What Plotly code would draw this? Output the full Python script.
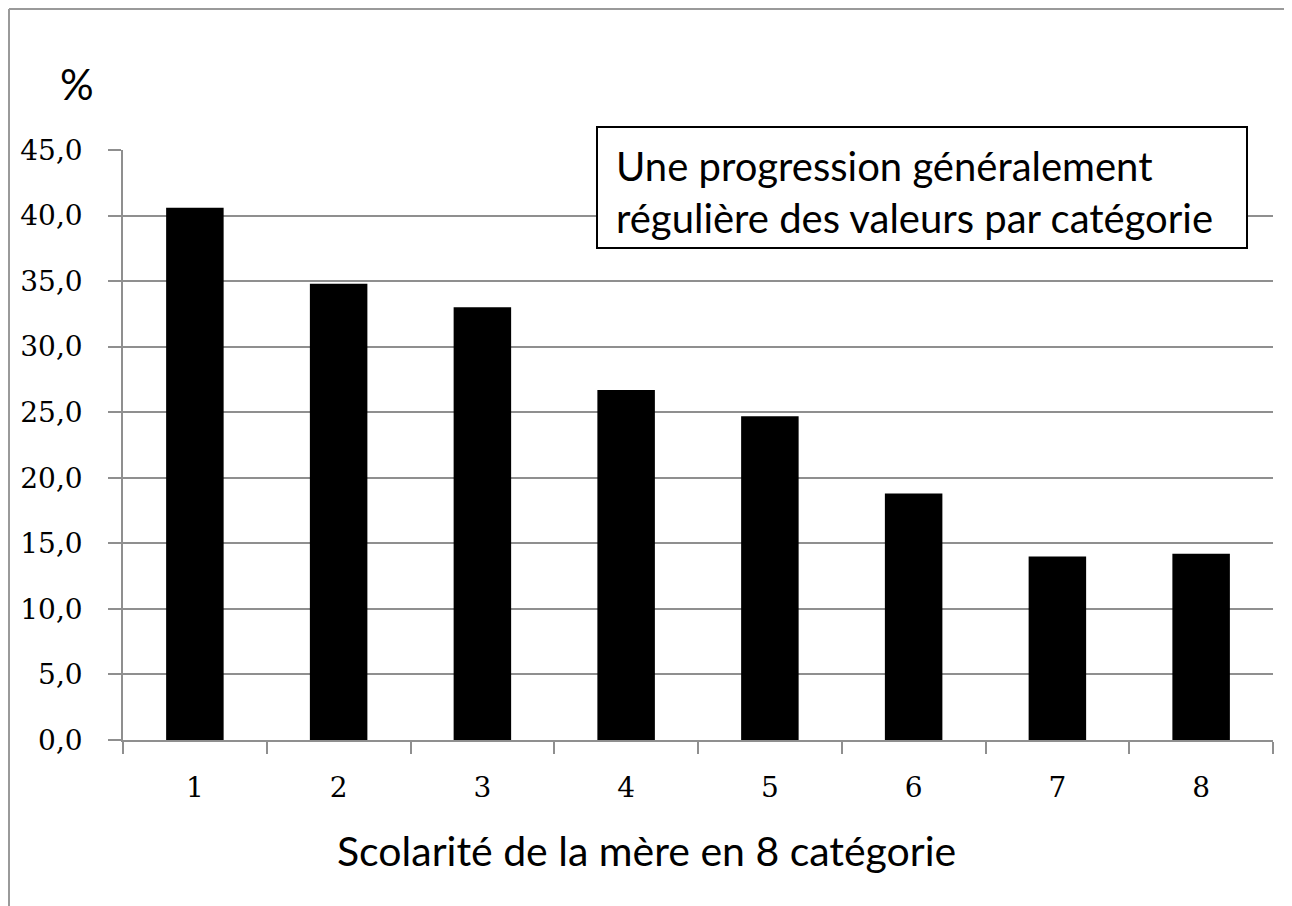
import plotly.graph_objects as go

categories = ["1", "2", "3", "4", "5", "6", "7", "8"]
values = [40.6, 34.8, 33.0, 26.7, 24.7, 18.8, 14.0, 14.2]
y_ticks = [0, 5, 10, 15, 20, 25, 30, 35, 40, 45]
x_title = "Scolarité de la mère en 8 catégorie"
y_unit = "%"
note = "Une progression généralement<br>régulière des valeurs par catégorie"

W, H = 1292, 906
OFF = 8  # default page body margin of the browser
ML, MT = 123 - OFF, 150 - OFF
PW, PH = 1150, 590
MR = W - ML - PW
MB = H - MT - PH


def px(x):
    # page pixel x -> paper coordinate
    return (x - OFF - ML) / PW


def py(y):
    # page pixel y -> paper coordinate
    return (MT + PH - (y - OFF)) / PH


fig = go.Figure()
fig.add_trace(go.Bar(
    x=categories, y=values,
    marker=dict(color="#000000", line=dict(color="#000000", width=0)),
    width=0.4,
))

grid = "#8f8f8f"
frame = "#9a9a9a"
tick_font = dict(family="DejaVu Serif", size=28, color="#000000")
fig.update_layout(
    width=W, height=H,
    margin=dict(l=ML, r=MR, t=MT, b=MB),
    paper_bgcolor="#FFFFFF",
    plot_bgcolor="rgba(0,0,0,0)",
    showlegend=False,
    separators=", ",
    xaxis=dict(
        type="category", tickson="boundaries",
        ticks="outside", ticklen=12, tickwidth=1.5, tickcolor=grid,
        showline=True, linecolor=grid, linewidth=1.5,
        showgrid=False,
        tickfont=tick_font,
        ticklabelstandoff=22,
    ),
    yaxis=dict(
        range=[0, 45], tickvals=y_ticks, tickformat=".1f",
        ticks="outside", ticklen=13, tickwidth=1.5, tickcolor=grid,
        showline=True, linecolor=grid, linewidth=1.5,
        showgrid=True, gridcolor=grid, gridwidth=1.5,
        zeroline=False,
        tickfont=tick_font,
        ticklabelstandoff=20,
    ),
    shapes=[
        # grey frame lines (top and left)
        dict(type="line", xref="paper", yref="paper", layer="below",
             x0=px(9), x1=px(1300), y0=py(9), y1=py(9),
             line=dict(color=frame, width=2)),
        dict(type="line", xref="paper", yref="paper", layer="below",
             x0=px(9), x1=px(9), y0=py(9), y1=py(910),
             line=dict(color=frame, width=2)),
        # note box
        dict(type="rect", xref="paper", yref="paper", layer="above",
             x0=px(597), x1=px(1247), y0=py(248), y1=py(127),
             fillcolor="#FFFFFF", line=dict(color="#000000", width=2)),
    ],
    annotations=[
        dict(text=note, xref="paper", yref="paper", x=px(614), y=py(192),
             xanchor="left", yanchor="middle", align="left", showarrow=False,
             font=dict(family="Lato", size=40, color="#000000")),
        dict(text=x_title, xref="paper", yref="paper", x=px(646), y=py(850),
             xanchor="center", yanchor="middle", showarrow=False,
             font=dict(family="Lato", size=41, color="#000000")),
        dict(text=y_unit, xref="paper", yref="paper", x=px(77), y=py(84),
             xanchor="center", yanchor="middle", showarrow=False,
             font=dict(family="Lato", size=42, color="#000000")),
    ],
)

fig.write_html("out.html")
